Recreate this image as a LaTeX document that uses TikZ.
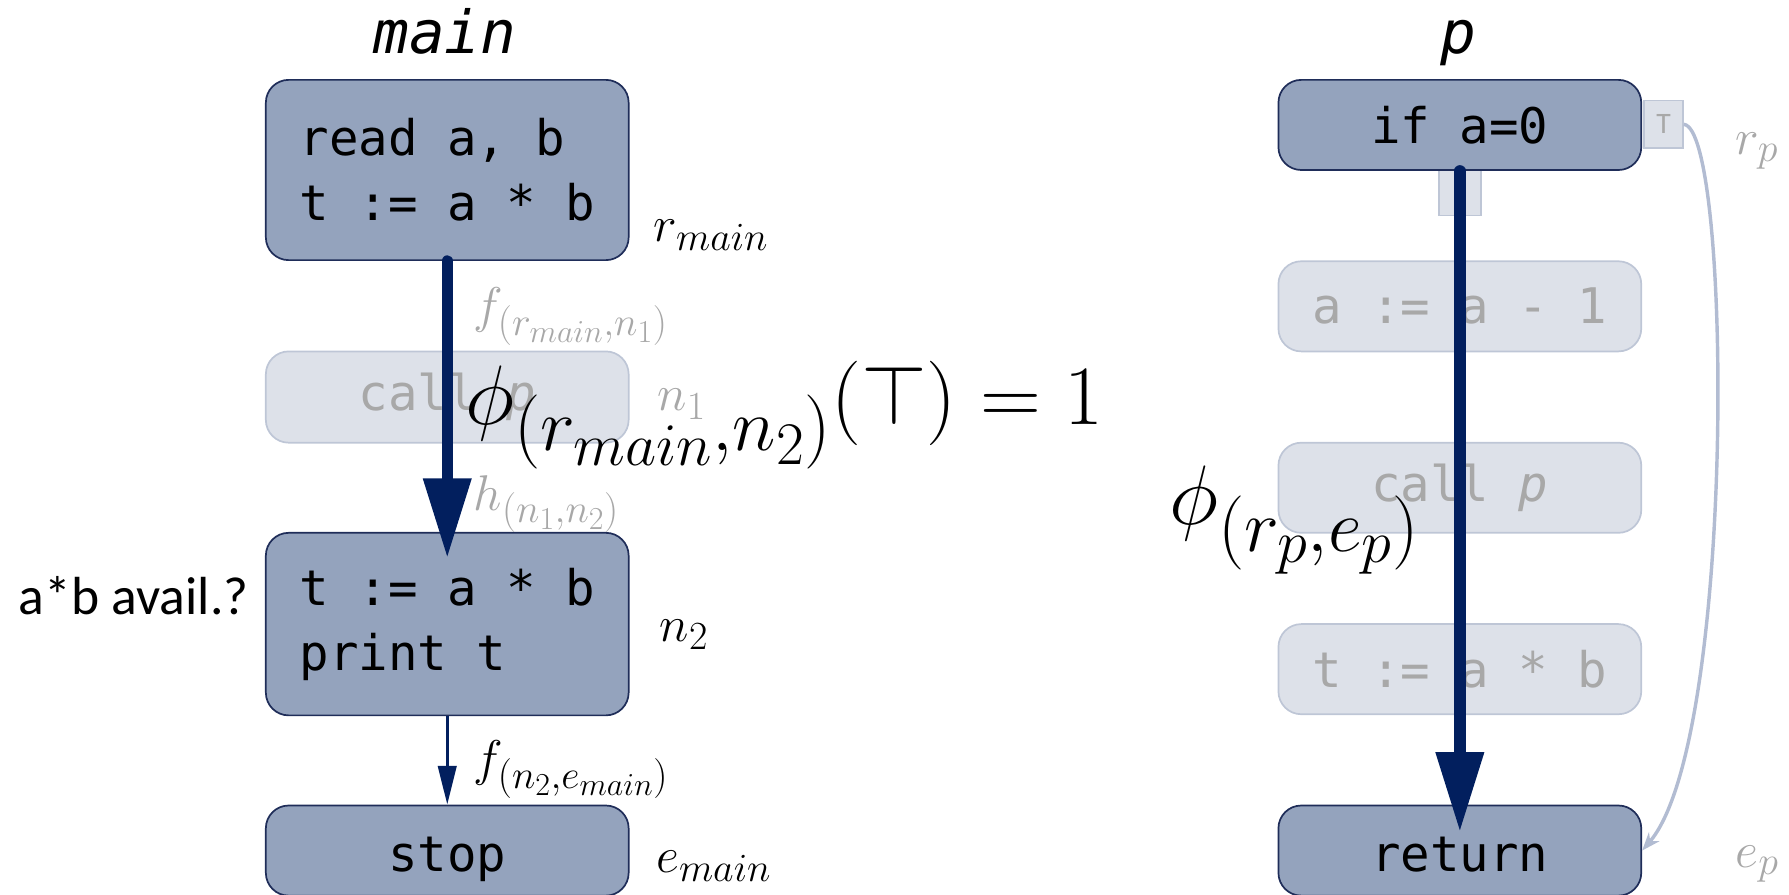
\RequirePackage{fix-cm}
\documentclass[tikz,border=0pt]{standalone}
\usepackage{fontspec}
\newfontfamily\codefont{DejaVu Sans Mono}
\newfontfamily\labfont{Carlito}
\usetikzlibrary{arrows.meta}
\DeclareMathSizes{44}{44}{35}{28}
\DeclareMathSizes{74}{74}{65}{53}
\definecolor{boxfill}{RGB}{148,163,189}
\definecolor{boxline}{RGB}{31,45,89}
\definecolor{fadefill}{RGB}{221,225,233}
\definecolor{fadeline}{RGB}{190,198,214}
\definecolor{fadetext}{RGB}{168,168,168}
\definecolor{navy}{RGB}{2,31,94}
\definecolor{curvecol}{RGB}{178,188,210}
\begin{document}
\begin{tikzpicture}[x=1pt,y=-1pt,
  blk/.style={rectangle, rounded corners=20pt, fill=boxfill, draw=boxline, line width=1.5pt,
    minimum width=318pt, inner sep=0pt, align=left, text=black,
    font=\codefont\fontsize{43}{57}\selectfont},
  fadeblk/.style={blk, fill=fadefill, draw=fadeline, text=fadetext},
  lowtext/.style={text height=37pt, text depth=0pt},
  port/.style={rectangle, fill=fadefill, draw=fadeline, line width=1.5pt, inner sep=0pt,
    text=fadetext, font=\labfont\fontsize{26}{26}\selectfont},
  title/.style={anchor=base, inner sep=0pt, font=\codefont\itshape\fontsize{52}{60}\selectfont},
  lab/.style={anchor=base west, inner sep=0pt, font=\fontsize{44}{50}\selectfont},
  fadelab/.style={lab, text=fadetext},
  biglab/.style={anchor=base west, inner sep=0pt, font=\fontsize{74}{80}\selectfont},
  bigarrow/.style={navy, line width=10pt, line cap=round, -{Triangle[length=70pt,width=40pt]}},
  thinarrow/.style={navy, line width=3pt, -{Triangle[length=34pt,width=16pt]}},
  backarrow/.style={curvecol, line width=3pt, -{Stealth[length=16pt,width=12pt]}}
]
\useasboundingbox (0,0) rectangle (1568,784);

% titles
\node[title] (tmain) at (390,47) {main};
\node[title] (tp) at (1278,47) {p};

% faded boxes and ports
\node[fadeblk, minimum height=80pt] (callA) at (392,348) {call \textit{p}};
\node[fadeblk, minimum height=79pt] (dec) at (1279.5,268.5) {a := a - 1};
\node[fadeblk, minimum height=79pt] (callB) at (1279.5,427.5) {call \textit{p}};
\node[fadeblk, minimum height=79pt] (tab) at (1279.5,586.5) {t := a * b};
\node[port, minimum width=37pt, minimum height=40pt] (fport) at (1279.5,169) {};
\node[port, minimum width=34pt, minimum height=42pt] (tport) at (1458,109) {T};

% main boxes
\node[blk, minimum height=158pt] (rmain) at (392,149) {read a, b\\t := a * b};
\node[blk, minimum height=160pt] (n2) at (392,547) {t := a * b\\print t};
\node[blk, lowtext, minimum height=79pt] (stop) at (392,745.5) {stop};
\node[blk, minimum height=79pt] (ifa) at (1279.5,109.5) {if a=0};
\node[blk, lowtext, minimum height=79pt] (ret) at (1279.5,745.5) {return};

% connectors
\draw[bigarrow] (rmain.south) -- ([yshift=-23pt]n2.north);
\draw[thinarrow] (n2.south) -- (stop.north);
\draw[bigarrow] (ifa.south) -- ([yshift=-24pt]ret.north);
\draw[backarrow] (tport.east) .. controls (1518,112) and (1522,650) .. (ret.east);

% labels
\node[lab] (lrmain) at (573,212) {$r_{main}$};
\node[fadelab] (lf1) at (415,283) {$f_{(r_{main},n_1)}$};
\node[fadelab] (ln1) at (576,360) {$n_1$};
\node[fadelab] (lh) at (415,447) {$h_{(n_1,n_2)}$};
\node[lab] (ln2) at (578,562) {$n_2$};
\node[anchor=base east, inner sep=0pt, font=\labfont\fontsize{47}{52}\selectfont] (avail) at (218,539) {a*b avail.?};
\node[lab] (lf2) at (415,680) {$f_{(n_2,e_{main})}$};
\node[lab] (lemain) at (575,765) {$e_{main}$};
\node[fadelab] (lrp) at (1521,135) {$r_p$};
\node[fadelab] (lep) at (1521,760) {$e_p$};
\node[biglab] (phi1) at (408,372) {$\phi_{(r_{main},n_2)}(\top)=1$};
\node[biglab] (phi2) at (1025,460) {$\phi_{(r_p,e_p)}$};
\end{tikzpicture}
\end{document}
